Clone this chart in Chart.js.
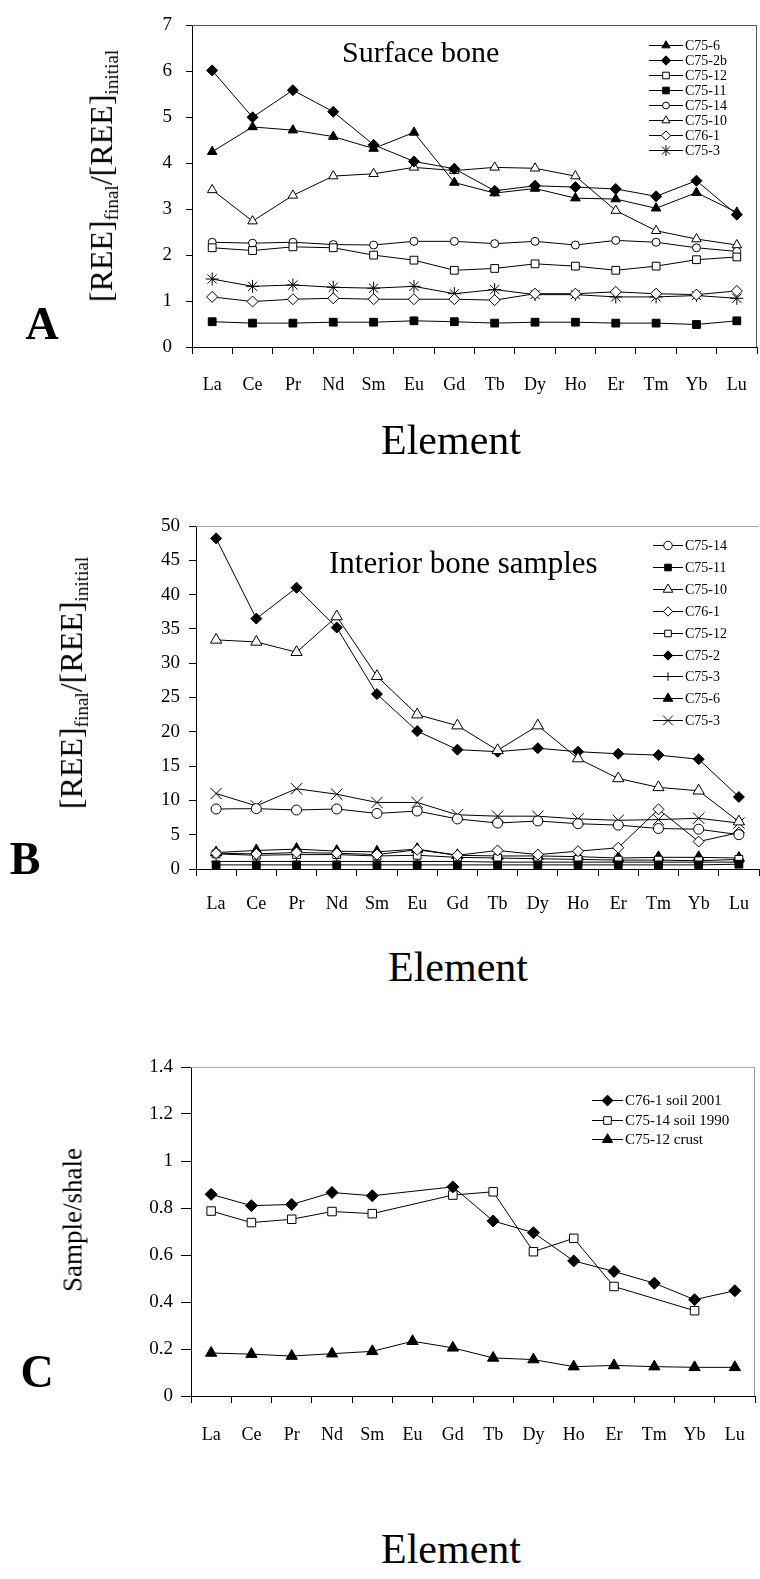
<!DOCTYPE html>
<html>
<head>
<meta charset="utf-8">
<script src="https://cdn.jsdelivr.net/npm/chart.js@4.4.1/dist/chart.umd.min.js"></script>
<style>
  body { margin: 0; background: #fff; }
  #page { position: relative; width: 760px; height: 1579px; font-family: "Liberation Serif", "Times New Roman", serif; color: #000; }
  canvas { position: absolute; left: 0; }
  .txt { position: absolute; white-space: nowrap; line-height: 1; }
  .rot { transform: translate(-50%, -50%) rotate(-90deg); }
  .ctr { transform: translate(-50%, -50%); }
  .lbl { font-weight: bold; font-size: 46px; }
  .ax { font-size: 42px; }
  sub { font-size: 0.6em; vertical-align: -0.3em; }
</style>
</head>
<body>
<div id="page">
  <canvas id="chartSurface" width="760" height="410" style="top:0px"></canvas>
  <canvas id="chartInterior" width="760" height="470" style="top:460px"></canvas>
  <canvas id="chartSoil" width="760" height="420" style="top:1040px"></canvas>

  <div class="txt" style="left:342px;top:37px;font-size:30px">Surface bone</div>
  <div class="txt" style="left:329px;top:547px;font-size:31px">Interior bone samples</div>

  <div class="txt rot" style="left:103px;top:176px;font-size:32px">[REE]<sub>final</sub>/[REE]<sub>initial</sub></div>
  <div class="txt rot" style="left:73px;top:683px;font-size:32px">[REE]<sub>final</sub>/[REE]<sub>initial</sub></div>
  <div class="txt rot" style="left:73px;top:1220px;font-size:27px">Sample/shale</div>

  <div class="txt ctr ax" style="left:451px;top:440px">Element</div>
  <div class="txt ctr ax" style="left:458px;top:967px">Element</div>
  <div class="txt ctr ax" style="left:451px;top:1549px">Element</div>

  <div class="txt ctr lbl" style="left:42px;top:324px">A</div>
  <div class="txt ctr lbl" style="left:25px;top:859px">B</div>
  <div class="txt ctr lbl" style="left:37px;top:1372px">C</div>
</div>

<script>
const SERIF = '"Liberation Serif", "Times New Roman", serif';

const elements = ['La', 'Ce', 'Pr', 'Nd', 'Sm', 'Eu', 'Gd', 'Tb', 'Dy', 'Ho', 'Er', 'Tm', 'Yb', 'Lu'];

// A - surface bone
const surfC75_6  = [4.25, 4.79, 4.72, 4.58, 4.32, 4.67, 3.58, 3.35, 3.45, 3.24, 3.22, 3.02, 3.36, 2.93];
const surfC75_2b = [6.02, 5.00, 5.59, 5.12, 4.40, 4.04, 3.88, 3.40, 3.51, 3.48, 3.44, 3.28, 3.62, 2.88];
const surfC75_12 = [2.16, 2.10, 2.18, 2.16, 2.00, 1.89, 1.67, 1.71, 1.81, 1.76, 1.67, 1.76, 1.90, 1.96];
const surfC75_11 = [0.55, 0.52, 0.52, 0.54, 0.54, 0.57, 0.55, 0.52, 0.54, 0.54, 0.52, 0.52, 0.49, 0.57];
const surfC75_14 = [2.28, 2.26, 2.28, 2.23, 2.22, 2.30, 2.30, 2.25, 2.30, 2.22, 2.32, 2.28, 2.16, 2.08];
const surfC75_10 = [3.42, 2.74, 3.30, 3.72, 3.77, 3.91, 3.84, 3.91, 3.89, 3.72, 2.97, 2.53, 2.35, 2.22];
const surfC76_1  = [1.09, 0.99, 1.04, 1.06, 1.04, 1.04, 1.04, 1.02, 1.16, 1.16, 1.20, 1.16, 1.14, 1.22];
const surfC75_3  = [1.48, 1.32, 1.35, 1.30, 1.28, 1.32, 1.16, 1.25, 1.14, 1.14, 1.09, 1.09, 1.12, 1.06];

// B - interior bone samples
const intC75_14  = [8.75, 8.8, 8.6, 8.75, 8.1, 8.45, 7.3, 6.7, 7.0, 6.6, 6.4, 5.9, 5.8, 5.0];
const intC75_11  = [0.6, 0.6, 0.6, 0.6, 0.6, 0.6, 0.6, 0.6, 0.6, 0.6, 0.6, 0.6, 0.6, 0.7];
const intC75_10  = [33.4, 33.1, 31.6, 36.8, 28.1, 22.5, 20.9, 17.3, 20.9, 16.1, 13.2, 11.9, 11.4, 6.9];
const intC76_1   = [2.3, 2.2, 2.4, 2.3, 2.1, 2.8, 2.0, 2.7, 2.1, 2.6, 3.1, 8.7, 4.0, 5.3];
const intC75_12  = [2.2, 2.0, 2.1, 2.1, 1.9, 2.0, 1.7, 1.6, 1.5, 1.4, 1.3, 1.3, 1.2, 1.4];
const intC75_2   = [48.2, 36.5, 41.0, 35.2, 25.5, 20.1, 17.4, 17.1, 17.6, 17.1, 16.8, 16.6, 16.0, 10.5];
const intC75_3p  = [1.1, 1.1, 1.1, 1.1, 1.1, 1.1, 1.1, 1.0, 1.0, 1.0, 1.0, 1.0, 1.0, 1.0];
const intC75_6   = [2.4, 2.7, 2.9, 2.6, 2.5, 2.9, 2.0, 1.9, 1.9, 1.8, 1.6, 1.7, 1.7, 1.6];
const intC75_3x  = [11.0, 9.2, 11.7, 10.9, 9.7, 9.7, 7.9, 7.7, 7.7, 7.3, 7.1, 7.2, 7.4, 6.7];

// C - soils and crust, normalised to shale
const soilC76_1  = [0.858, 0.81, 0.815, 0.866, 0.852, null, 0.89, 0.745, 0.695, 0.575, 0.53, 0.48, 0.41, 0.448];
const soilC75_14 = [0.787, 0.738, 0.752, 0.785, 0.776, null, 0.855, 0.869, 0.614, 0.671, 0.466, null, 0.363, null];
const crustC75_12 = [0.183, 0.178, 0.17, 0.18, 0.19, 0.233, 0.205, 0.162, 0.155, 0.125, 0.13, 0.125, 0.122, 0.122];

function serie(label, data, style, filled, r) {
  return {
    label, data,
    borderColor: '#000', borderWidth: 1, tension: 0,
    pointStyle: style, pointRadius: r, pointHoverRadius: r,
    pointBorderColor: '#000', pointBorderWidth: 1,
    pointBackgroundColor: filled ? '#000' : '#fff',
    spanGaps: true
  };
}

// top / right edges of the plot box
const frameEdges = {
  id: 'frameEdges',
  afterDraw(chart, args, o) {
    const { ctx, chartArea: a } = chart;
    ctx.save();
    ctx.lineWidth = 1;
    if (o.top) {
      ctx.strokeStyle = o.top;
      ctx.beginPath(); ctx.moveTo(a.left, Math.round(a.top) + 0.5); ctx.lineTo(a.right, Math.round(a.top) + 0.5); ctx.stroke();
    }
    if (o.right) {
      ctx.strokeStyle = o.right;
      ctx.beginPath(); ctx.moveTo(Math.round(a.right) - 0.5, a.top); ctx.lineTo(Math.round(a.right) - 0.5, a.bottom); ctx.stroke();
    }
    ctx.restore();
  }
};

// legend: short line with the marker in the middle, label on the right
const sampleLegend = {
  id: 'sampleLegend',
  afterDatasetsDraw(chart, args, o) {
    if (!o || o.x === undefined) return;
    const ctx = chart.ctx;
    ctx.save();
    ctx.font = o.size + 'px ' + SERIF;
    ctx.textBaseline = 'middle';
    chart.data.datasets.forEach((ds, i) => {
      const y = Math.round(o.y + i * o.gap);
      ctx.strokeStyle = '#000';
      ctx.lineWidth = 1;
      ctx.beginPath(); ctx.moveTo(o.x, y + 0.5); ctx.lineTo(o.x + o.len, y + 0.5); ctx.stroke();
      ctx.fillStyle = ds.pointBackgroundColor;
      Chart.helpers.drawPoint(ctx, {
        pointStyle: ds.pointStyle, rotation: 0, borderWidth: 1,
        radius: ds.pointRadius * (o.scale || 1)
      }, o.x + o.len / 2, y + 0.5);
      ctx.fillStyle = '#000';
      ctx.fillText(ds.label, o.x + o.len + 2, y + 1);
    });
    ctx.restore();
  }
};

function panel(id, datasets, p) {
  return new Chart(document.getElementById(id), {
    type: 'line',
    data: { labels: elements, datasets },
    plugins: [frameEdges, sampleLegend],
    options: {
      responsive: false,
      animation: false,
      layout: { padding: p.pad, autoPadding: false },
      plugins: {
        legend: { display: false },
        tooltip: { enabled: false },
        frameEdges: p.frame,
        sampleLegend: p.legend
      },
      scales: {
        x: {
          offset: true,
          grid: { offset: true, drawOnChartArea: false, drawTicks: true, tickLength: 7, color: '#000' },
          border: { color: '#000', width: 1 },
          ticks: { font: { family: SERIF, size: 18 }, color: '#000', padding: p.xPad, maxRotation: 0, autoSkip: false },
          afterFit: s => { s.height = 50; s.paddingLeft = 0; s.paddingRight = 0; }
        },
        y: {
          min: 0, max: p.yMax,
          grid: { drawOnChartArea: false, tickLength: p.yTick, color: '#000' },
          border: { color: '#000', width: 1 },
          ticks: {
            stepSize: p.step, color: '#000', padding: p.yPad,
            font: { family: SERIF, size: p.yFont },
            callback: v => String(+v.toFixed(1))
          },
          afterFit: s => { s.width = 70; }
        }
      }
    }
  });
}

panel('chartSurface', [
  serie('C75-6',  surfC75_6,  'triangle', true, 5.5),
  serie('C75-2b', surfC75_2b, 'rectRot',  true, 5.5),
  serie('C75-12', surfC75_12, 'rect',     false, 5.5),
  serie('C75-11', surfC75_11, 'rect',     true, 5.5),
  serie('C75-14', surfC75_14, 'circle',   false, 4),
  serie('C75-10', surfC75_10, 'triangle', false, 5.5),
  serie('C76-1',  surfC76_1,  'rectRot',  false, 5.5),
  serie('C75-3',  surfC75_3,  'star',     false, 6.5)
], {
  pad: { top: 14, bottom: 13, left: 122, right: 3 },
  xPad: 20, yMax: 7, step: 1, yTick: 6, yPad: 14, yFont: 19,
  frame: { top: '#555', right: '#555' },
  legend: { x: 649, y: 45, gap: 15, len: 34, size: 14, scale: 0.85 }
});

panel('chartInterior', [
  serie('C75-14', intC75_14, 'circle',   false, 5),
  serie('C75-11', intC75_11, 'rect',     true, 5.5),
  serie('C75-10', intC75_10, 'triangle', false, 6.5),
  serie('C76-1',  intC76_1,  'rectRot',  false, 5.5),
  serie('C75-12', intC75_12, 'rect',     false, 5.5),
  serie('C75-2',  intC75_2,  'rectRot',  true, 5.5),
  serie('C75-3',  intC75_3p, 'cross',    false, 5),
  serie('C75-6',  intC75_6,  'triangle', true, 6.5),
  serie('C75-3',  intC75_3x, 'crossRot', false, 8)
], {
  pad: { top: 66, bottom: 11, left: 126, right: 1 },
  xPad: 17, yMax: 50, step: 5, yTick: 7, yPad: 9, yFont: 19,
  frame: { top: '#aaa' },
  legend: { x: 653, y: 85, gap: 21.9, len: 30, size: 14, scale: 0.85 }
});

panel('chartSoil', [
  serie('C76-1 soil 2001',  soilC76_1,   'rectRot',  true, 6),
  serie('C75-14 soil 1990', soilC75_14,  'rect',     false, 6),
  serie('C75-12 crust',     crustC75_12, 'triangle', true, 6.5)
], {
  pad: { top: 27, bottom: 14, left: 121, right: 5 },
  xPad: 21, yMax: 1.4, step: 0.2, yTick: 10, yPad: 8, yFont: 19,
  frame: { top: '#aaa', right: '#999' },
  legend: { x: 592, y: 60, gap: 19.5, len: 31, size: 15, scale: 0.9 }
});
</script>
</body>
</html>
